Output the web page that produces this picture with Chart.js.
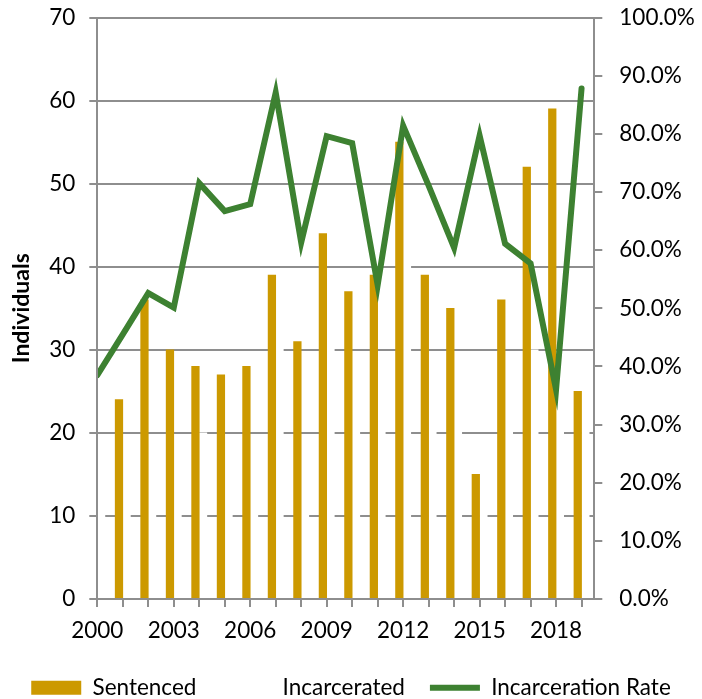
<!DOCTYPE html>
<html><head><meta charset="utf-8">
<script src="https://cdn.jsdelivr.net/npm/chart.js@4/dist/chart.umd.min.js"></script>
<style>html,body{margin:0;padding:0;background:#fff;}canvas{display:block;}</style>
</head><body>
<canvas id="c" width="702" height="699"></canvas>
<script>
const years = [2000,2001,2002,2003,2004,2005,2006,2007,2008,2009,2010,2011,2012,2013,2014,2015,2016,2017,2018,2019];
const xTickLabels = [2000,2003,2006,2009,2012,2015,2018];
const sentenced = [31,24,36,30,28,27,28,39,31,44,37,39,55,39,35,15,36,52,59,25];
const incarcerated = [12,11,19,15,20,18,19,34,19,35,29,21,45,28,21,12,22,30,21,22];
const incarcerationRate = [38.5,45.5,52.6,50.1,71.5,66.7,67.9,87.1,61.3,79.6,78.4,54.0,81.4,71.1,60.4,79.7,61.1,57.7,36.0,87.8];
const seriesNames = ['Sentenced','Incarcerated','Incarceration Rate'];
const yTitle = 'Individuals';

const GRID = '#8e8e8e';
const FONT = 'Lato';
Chart.defaults.font.family = FONT;
Chart.defaults.color = '#000';

function fixSize(w) {
  return s => { s.width = w; s.paddingTop = 0; s.paddingBottom = 0; };
}

new Chart(document.getElementById('c'), {
  data: {
    datasets: [
      { type:'bar', label: seriesNames[0], data: years.map((y,i)=>({x:y,y:sentenced[i]})),
        backgroundColor:'#cc9900', borderWidth:0, barThickness:7.6, yAxisID:'y', order:1, clip:0, pointStyle:'rect' },
      { type:'bar', label: seriesNames[1], data: years.map((y,i)=>({x:y,y:incarcerated[i]})),
        backgroundColor:'#ffffff', borderWidth:0, barThickness:7.6, yAxisID:'y', order:2, clip:0, pointStyle:'rect' },
      { type:'line', label: seriesNames[2], data: years.map((y,i)=>({x:y,y:incarcerationRate[i]})),
        borderColor:'#3d8131', backgroundColor:'#3d8131', borderWidth:6, pointRadius:0, tension:0,
        borderCapStyle:'round', borderJoinStyle:'miter', yAxisID:'y1', order:0, pointStyle:'line' }
    ]
  },
  options: {
    responsive:false, animation:false, devicePixelRatio:1,
    layout:{ padding:{ top:17.5, left:0, right:0, bottom:-10 } },
    plugins:{
      tooltip:{enabled:false},
      legend:{ position:'bottom',
        labels:{ usePointStyle:true, pointStyleWidth:50, boxHeight:14, padding:25,
          sort:(a,b)=>a.datasetIndex-b.datasetIndex,
          font:{family:FONT,size:22.5}, color:'#000' } }
    },
    scales:{
      x:{ type:'linear', min:2000, max:2019.5, offset:false,
        afterFit: s => { s.height = 52.5; },
        ticks:{ stepSize:1, includeBounds:false, autoSkip:false, maxRotation:0, padding:10,
          font:{family:FONT,size:22.5}, color:'#000',
          callback: v => xTickLabels.includes(v) ? String(v) : '' },
        grid:{ offset:false, drawOnChartArea:false, drawTicks:true, tickLength:8, color:GRID, lineWidth:2 },
        border:{ display:true, color:GRID, width:2, z:1 }
      },
      y:{ position:'left', min:0, max:70,
        afterFit: fixSize(97.3),
        ticks:{ stepSize:10, padding:14, font:{family:FONT,size:22.5}, color:'#000' },
        grid:{ color:GRID, lineWidth:2, tickLength:8 },
        border:{ display:true, color:GRID, width:2, z:1 },
        title:{ display:true, text:yTitle, font:{family:FONT,size:23,weight:'bold'}, color:'#000', padding:{top:8,bottom:0} }
      },
      y1:{ position:'right', min:0, max:100,
        afterFit: fixSize(107.7),
        ticks:{ stepSize:10, padding:17, font:{family:FONT,size:22.5}, color:'#000',
          callback: v => v.toFixed(1) + '%' },
        grid:{ drawOnChartArea:false, color:GRID, lineWidth:2, tickLength:8 },
        border:{ display:true, color:GRID, width:2, z:1 }
      }
    }
  }
});
</script>
</body></html>
